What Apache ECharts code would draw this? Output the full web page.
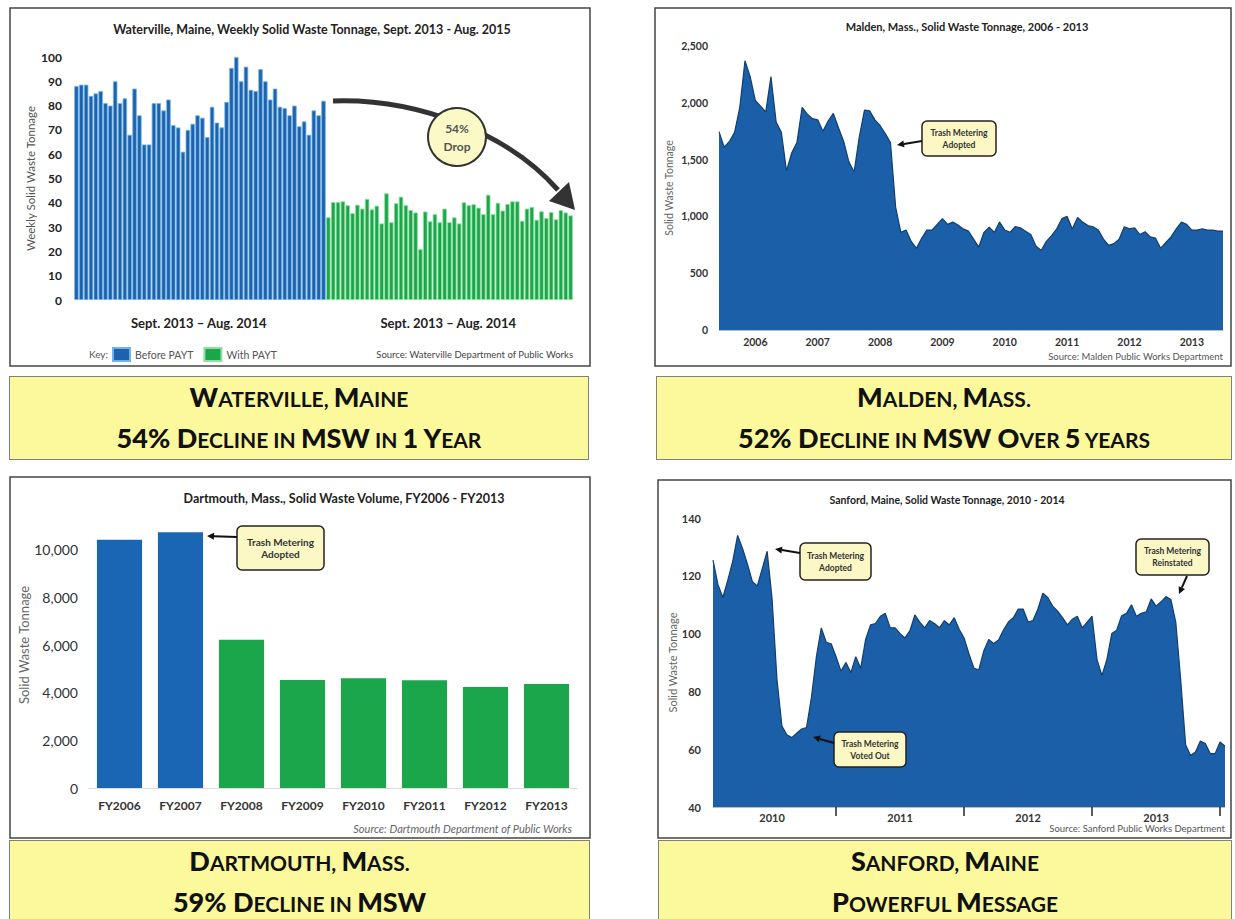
<!DOCTYPE html>
<html lang="en">
<head>
<meta charset="utf-8">
<title>Trash metering results</title>
<script src="https://cdn.jsdelivr.net/npm/echarts@6/dist/echarts.min.js"></script>
<style>
  html, body { margin: 0; padding: 0; background: #fff; }
  #main { position: absolute; left: 0; top: 0; width: 1235px; height: 919px; }
  .cap {
    position: absolute; box-sizing: border-box; background: #fcf99c; border: 1px solid #7f7f7f;
    font-family: Lato, 'Open Sans', sans-serif; font-weight: bold; text-transform: uppercase;
    text-align: center; color: #111; font-size: 21px; line-height: 39px; padding-top: 0;
  }
  .cap b { font-size: 27px; }
</style>
</head>
<body>
<div id="main"></div>
<div class="cap" style="left:9px;top:376px;width:580px;height:84px"><b>W</b>aterville, <b>M</b>aine<br><b>54% D</b>ecline in <b>MSW</b> in <b>1 Y</b>ear</div>
<div class="cap" style="left:656px;top:376px;width:576px;height:84px"><b>M</b>alden, <b>M</b>ass.<br><b>52% D</b>ecline in <b>MSW O</b>ver <b>5</b> years</div>
<div class="cap" style="left:9px;top:840px;width:581px;height:84px"><b>D</b>artmouth, <b>M</b>ass.<br><b>59% D</b>ecline in <b>MSW</b></div>
<div class="cap" style="left:658px;top:840px;width:574px;height:84px"><b>S</b>anford, <b>M</b>aine<br><b>P</b>owerful <b>M</b>essage</div>

<script type="text/javascript">
// Waterville, weekly tonnage
var wvBefore = [88, 88.6, 88.6, 84, 85, 86, 81, 80, 90, 81,
  83, 68, 87, 76, 64, 64, 81, 81, 78, 82.5,
  72, 71, 61, 70, 72.5, 76, 75, 67, 79.5, 73,
  71, 81.5, 95.5, 100, 90, 96, 86.5, 86, 95, 90,
  82.5, 87, 79.5, 79, 76, 80, 71.5, 73.5, 68, 78,
  76, 82];
var wvWith = [34, 40.3, 40.3, 40.6, 39, 35.7, 39.2, 37.6, 41.6, 37.3,
  38.8, 31.5, 43.9, 32, 39.8, 42.5, 39, 37, 36, 20.9,
  36.4, 32.4, 35.3, 32, 37.6, 32, 34, 31.5, 40.2, 39,
  39.4, 38, 35.3, 43.3, 35.3, 40, 36.8, 39.5, 40.6, 40.6,
  32.6, 37.6, 38.3, 33, 36.5, 33.7, 36.2, 33.2, 37, 36, 34.8];
var wvKey = ['Before PAYT', 'With PAYT'];
var wvPeriods = ['Sept. 2013 – Aug. 2014', 'Sept. 2013 – Aug. 2014'];

// Malden, monthly tonnage from Nov 2005
var mdStart = [2005, 11];
var mdTonnage = [1746, 1610, 1660, 1740, 1960, 2370, 2230, 2020, 1970, 1920,
  2230, 1830, 1740, 1400, 1560, 1650, 1960, 1900, 1860, 1850,
  1750, 1840, 1907, 1780, 1660, 1480, 1390, 1700, 1936, 1930,
  1850, 1800, 1730, 1650, 1080, 860, 880, 780, 719, 807,
  880, 880, 930, 980, 930, 950, 924, 890, 870, 800,
  730, 860, 905, 860, 950, 880, 860, 910, 900, 870,
  840, 740, 700, 780, 830, 890, 980, 1000, 890, 990,
  950, 920, 909, 880, 800, 745, 760, 800, 909, 890,
  900, 840, 865, 820, 810, 720, 770, 820, 890, 950,
  930, 880, 880, 890, 880, 880, 871, 871];

// Dartmouth, yearly tonnage
var dmYears = ['FY2006', 'FY2007', 'FY2008', 'FY2009', 'FY2010', 'FY2011', 'FY2012', 'FY2013'];
var dmTonnage = [10420, 10727, 6224, 4531, 4601, 4517, 4238, 4364];
var dmPaytFrom = 'FY2008';

// Sanford, tonnage every two weeks from 21 Jan 2010
var sfStart = [2010, 0, 21];
var sfTonnage = [125.4, 117, 112.5, 118.5, 125, 134, 129.5, 124, 118, 116.5,
  122.5, 128.5, 112, 84, 68, 65, 64, 65.5, 67, 67.5,
  78, 92, 102, 97, 96.5, 92, 87, 90, 86.5, 92,
  88, 98, 103, 103.5, 106, 107, 102, 102, 100, 98.5,
  101, 106.5, 104, 102, 104.5, 103.5, 102, 104.5, 103, 105.5,
  101.5, 98.5, 93, 88, 87.5, 94, 98, 96.6, 97.8, 101.2,
  104, 105.5, 108.5, 108.5, 104, 104.5, 108.5, 114, 112.5, 109.5,
  107.8, 105.5, 103, 105, 106, 102, 104, 106, 91, 85.5,
  91, 100, 101.2, 106.2, 107, 110, 106, 107, 107.5, 112,
  109.5, 111, 112.8, 111.8, 104, 84, 61.5, 57.8, 59, 62.8,
  62, 58.5, 58.5, 62.5, 61];

var FONT = 'Lato, "Open Sans", sans-serif';
var BLUE = '#1d62ad';
var GREEN = '#1ba64b';
var AREA = '#1a5fa7';

// category lists
var wvWeeks = [];
for (var i = 0; i < wvBefore.length + wvWith.length; i++) wvWeeks.push('Week ' + (i + 1));
var mdMonths = [];
for (var i = 0; i < mdTonnage.length; i++) {
  var m = mdStart[1] - 1 + i;
  mdMonths.push((mdStart[0] + Math.floor(m / 12)) + '-' + ('0' + (m % 12 + 1)).slice(-2));
}
var sfDates = [];
var t0 = Date.UTC(sfStart[0], sfStart[1], sfStart[2]);
for (var i = 0; i < sfTonnage.length; i++) {
  sfDates.push(new Date(t0 + i * 14 * 86400000).toISOString().slice(0, 10));
}
function blanks(n) { var a = []; for (var k = 0; k < n; k++) a.push(null); return a; }
function comma(v) { return v.toLocaleString('en-US'); }

// little helpers for the annotations
function txt(x, y, s, font, fill, align) {
  return { type: 'text', x: x, y: y, z: 20,
    style: { text: s, font: font, fill: fill || '#333', align: align || 'center', textAlign: align || 'center',
      verticalAlign: 'middle', textVerticalAlign: 'middle', lineHeight: 12 } };
}
function arrow(x1, y1, x2, y2, w, head) {
  var a = Math.atan2(y2 - y1, x2 - x1);
  var bx = x2 - head * Math.cos(a), by = y2 - head * Math.sin(a);
  var px = Math.sin(a) * head * 0.5, py = -Math.cos(a) * head * 0.5;
  return [
    { type: 'line', z: 20, shape: { x1: x1, y1: y1, x2: bx, y2: by }, style: { stroke: '#111', lineWidth: w } },
    { type: 'polygon', z: 20, shape: { points: [[x2, y2], [bx + px, by + py], [bx - px, by - py]] }, style: { fill: '#111' } }
  ];
}
function note(x, y, w, h, s, size) {
  return [
    { type: 'rect', z: 20, shape: { x: x, y: y, width: w, height: h, r: 5 }, style: { fill: '#fbf8c6', stroke: '#222', lineWidth: 1.5 } },
    txt(x + w / 2, y + h / 2, s, 'bold ' + size + 'px ' + FONT, '#333')
  ];
}
function frame(x, y, w, h) {
  return { type: 'rect', z: 0, shape: { x: x, y: y, width: w, height: h }, style: { fill: 'none', stroke: '#444', lineWidth: 1.5 } };
}

var graphics = [
  frame(10, 8, 580, 358), frame(655, 8, 576, 358), frame(10, 477, 580, 361), frame(658, 480, 573, 358),
  txt(312, 29, 'Waterville, Maine, Weekly Solid Waste Tonnage, Sept. 2013 - Aug. 2015', 'bold 12.5px ' + FONT, '#222'),
  txt(967, 26, 'Malden, Mass., Solid Waste Tonnage, 2006 - 2013', 'bold 11px ' + FONT, '#222'),
  txt(344, 498, 'Dartmouth, Mass., Solid Waste Volume, FY2006 - FY2013', 'bold 12.5px ' + FONT, '#222'),
  txt(947, 500, 'Sanford, Maine, Solid Waste Tonnage, 2010 - 2014', 'bold 10.5px ' + FONT, '#222'),
  txt(573, 354, 'Source: Waterville Department of Public Works', '9.5px ' + FONT, '#444', 'right'),
  txt(1223, 356, 'Source: Malden Public Works Department', '9.5px ' + FONT, '#555', 'right'),
  txt(572, 828, 'Source: Dartmouth Department of Public Works', 'italic 11px ' + FONT, '#666', 'right'),
  txt(1225, 828, 'Source: Sanford Public Works Department', '9.5px ' + FONT, '#555', 'right'),
  txt(108, 354, 'Key:', '10px ' + FONT, '#555', 'right'),
  // curved arrow with the 54% drop bubble
  { type: 'bezierCurve', z: 18, shape: { x1: 333, y1: 101, cpx1: 420, cpy1: 98, cpx2: 510, cpy2: 135, x2: 558, y2: 190 },
    style: { stroke: '#333', lineWidth: 5, fill: 'none' } },
  { type: 'polygon', z: 18, shape: { points: [[575, 210], [549, 201], [569, 182]] }, style: { fill: '#333' } },
  { type: 'circle', z: 19, shape: { cx: 457, cy: 137, r: 29 }, style: { fill: '#fbf9c6', stroke: '#333', lineWidth: 2 } },
  txt(457, 128, '54%', 'bold 12px ' + FONT, '#555'),
  txt(457, 146, 'Drop', 'bold 12px ' + FONT, '#555')
];
graphics = graphics.concat(
  note(922, 121, 74, 35, 'Trash Metering\nAdopted', 8.5), arrow(922, 141, 897, 145, 2, 7),
  note(237, 526, 87, 44, 'Trash Metering\nAdopted', 10), arrow(237, 537, 207, 536, 2, 7),
  note(800, 543, 71, 37, 'Trash Metering\nAdopted', 8.5), arrow(800, 553, 775, 549, 2, 7),
  note(834, 732, 72, 35, 'Trash Metering\nVoted Out', 8.5), arrow(834, 743, 813, 737, 2, 7),
  note(1136, 539, 73, 36, 'Trash Metering\nReinstated', 8.5), arrow(1187, 576, 1179, 594, 2, 7)
);

var noLine = { show: false };
var chart = echarts.init(document.getElementById('main'), null, { renderer: 'svg' });
var option = {
  backgroundColor: 'transparent',
  animation: false,
  textStyle: { fontFamily: FONT },
  legend: {
    data: wvKey, left: 112, top: 347, itemWidth: 17, itemHeight: 13, itemGap: 10, padding: 0,
    icon: 'rect', textStyle: { fontSize: 10.5, color: '#555', fontFamily: FONT }
  },
  grid: [
    { left: 74, right: 662, top: 57, bottom: 619 },
    { left: 719, right: 12, top: 46, bottom: 589 },
    { left: 89, right: 658, top: 502, bottom: 131 },
    { left: 713, right: 10, top: 518, bottom: 112 }
  ],
  xAxis: [
    { type: 'category', gridIndex: 0, data: wvWeeks, axisLine: noLine, axisTick: noLine, axisLabel: noLine },
    { type: 'category', gridIndex: 0, data: wvKey, position: 'bottom', axisLine: noLine, axisTick: noLine,
      axisLabel: { margin: 16, fontSize: 13, fontWeight: 'bold', color: '#222',
        formatter: function (v, i) { return wvPeriods[i]; } } },
    { type: 'category', gridIndex: 1, data: mdMonths, boundaryGap: false,
      axisLine: { lineStyle: { color: '#bbb' } }, axisTick: noLine,
      axisLabel: { margin: 6, fontSize: 10.5, fontWeight: 'bold', color: '#333',
        interval: function (i, v) { return v.slice(5) === '06'; },
        formatter: function (v) { return v.slice(0, 4); } } },
    { type: 'category', gridIndex: 2, data: dmYears,
      axisLine: { lineStyle: { color: '#ddd' } }, axisTick: noLine,
      axisLabel: { margin: 11, fontSize: 12, fontWeight: 'bold', color: '#333' } },
    { type: 'category', gridIndex: 3, data: sfDates, boundaryGap: false,
      axisLine: { lineStyle: { color: '#bbb' } },
      axisTick: { show: true, length: 9, lineStyle: { color: '#222', width: 1.5 },
        interval: function (i) { return i > 0 && sfDates[i].slice(0, 4) !== sfDates[i - 1].slice(0, 4); } },
      axisLabel: { margin: 5, fontSize: 11, fontWeight: 'bold', color: '#333',
        interval: function (i, v) { var md = v.slice(5); return md >= '07-01' && md < '07-15'; },
        formatter: function (v) { return v.slice(0, 4); } } }
  ],
  yAxis: [
    { type: 'value', gridIndex: 0, min: 0, max: 100, interval: 10, splitLine: noLine,
      name: 'Weekly Solid Waste Tonnage', nameLocation: 'middle', nameGap: 38,
      nameTextStyle: { fontSize: 11.5, color: '#555' },
      axisLabel: { margin: 12, fontSize: 12, fontWeight: 'bold', color: '#222' } },
    { type: 'value', gridIndex: 1, min: 0, max: 2500, interval: 500, splitLine: noLine,
      name: 'Solid Waste Tonnage', nameLocation: 'middle', nameGap: 45,
      nameTextStyle: { fontSize: 10.5, color: '#666' },
      axisLabel: { margin: 11, fontSize: 10.5, fontWeight: 'bold', color: '#333', formatter: comma } },
    { type: 'value', gridIndex: 2, min: 0, max: 12000, interval: 2000, splitLine: noLine,
      name: 'Solid Waste Tonnage', nameLocation: 'middle', nameGap: 52,
      nameTextStyle: { fontSize: 13, color: '#666' },
      axisLabel: { margin: 11, fontSize: 14, color: '#333', showMaxLabel: false, formatter: comma } },
    { type: 'value', gridIndex: 3, min: 40, max: 140, interval: 20, splitLine: noLine,
      name: 'Solid Waste Tonnage', nameLocation: 'middle', nameGap: 31,
      nameTextStyle: { fontSize: 11, color: '#666' },
      axisLabel: { margin: 12, fontSize: 11, fontWeight: 'bold', color: '#333' } }
  ],
  series: [
    { name: wvKey[0], type: 'bar', xAxisIndex: 0, yAxisIndex: 0, barGap: '-100%', barCategoryGap: '8%',
      data: wvBefore.concat(blanks(wvWith.length)),
      itemStyle: { color: BLUE, borderColor: '#72b2e8', borderWidth: 0.8 } },
    { name: wvKey[1], type: 'bar', xAxisIndex: 0, yAxisIndex: 0, barGap: '-100%', barCategoryGap: '8%',
      data: blanks(wvBefore.length).concat(wvWith),
      itemStyle: { color: GREEN, borderColor: '#8fe0a0', borderWidth: 0.8 } },
    { name: 'Malden', type: 'line', xAxisIndex: 2, yAxisIndex: 1, data: mdTonnage, symbol: 'none',
      lineStyle: { color: '#123f70', width: 1.2 }, areaStyle: { color: AREA, opacity: 1 } },
    { name: 'Dartmouth', type: 'bar', xAxisIndex: 3, yAxisIndex: 2, barCategoryGap: '26%',
      data: dmTonnage.map(function (v, i) {
        return { value: v, itemStyle: { color: i < dmYears.indexOf(dmPaytFrom) ? '#1a66b4' : GREEN } };
      }) },
    { name: 'Sanford', type: 'line', xAxisIndex: 4, yAxisIndex: 3, data: sfTonnage, symbol: 'none',
      lineStyle: { color: '#123f70', width: 1.2 }, areaStyle: { color: AREA, opacity: 1, origin: 'start' } }
  ],
  graphic: { elements: graphics }
};
chart.setOption(option);
</script>
</body>
</html>
